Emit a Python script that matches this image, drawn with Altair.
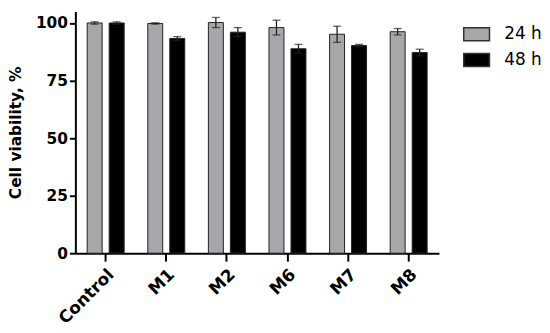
import altair as alt
import pandas as pd

groups = ["Control", "M1", "M2", "M6", "M7", "M8"]
times = ["24 h", "48 h"]
v24 = [100.0, 99.8, 100.2, 98.0, 95.1, 96.2]
e24 = [0.5, 0.3, 2.2, 3.2, 3.5, 1.4]
v48 = [100.0, 93.3, 96.0, 88.8, 90.2, 87.2]
e48 = [0.5, 0.8, 2.0, 1.9, 0.5, 1.4]
y_ticks = [0, 25, 50, 75, 100]

rows = []
for i, g in enumerate(groups):
    rows.append({"group": g, "time": times[0], "value": v24[i], "lo": v24[i] - e24[i], "hi": v24[i] + e24[i]})
    rows.append({"group": g, "time": times[1], "value": v48[i], "lo": v48[i] - e48[i], "hi": v48[i] + e48[i]})
df = pd.DataFrame(rows)

FONT = "DejaVu Sans"

x = alt.X("group:N", sort=groups, title=None,
          scale=alt.Scale(paddingInner=0.39, paddingOuter=0.195),
          axis=alt.Axis(labelAngle=-45, labelAlign="right", labelBaseline="top",
                        labelFont=FONT, labelFontWeight="bold", labelFontSize=17,
                        labelColor="black", labelPadding=5,
                        tickSize=8, tickWidth=2, tickColor="black",
                        domainWidth=2, domainColor="black"))
xo = alt.XOffset("time:N", sort=times, scale=alt.Scale(paddingInner=0.32, paddingOuter=0))
yscale = alt.Scale(domain=[0, 105], nice=False)

color = alt.Color("time:N", sort=times,
                  scale=alt.Scale(domain=times, range=["#a7a7ab", "#000000"]),
                  legend=alt.Legend(title=None, orient="none", legendX=391, legendY=9,
                                    symbolType="M-1,-0.5H1V0.5H-1Z", symbolSize=676,
                                    symbolStrokeColor="#333333", symbolStrokeWidth=1.5,
                                    labelFont=FONT, labelFontSize=17, labelColor="black",
                                    labelOffset=14, rowPadding=2, padding=0))

base = alt.Chart(df)

bars = base.mark_bar(stroke="#222222", strokeWidth=1).encode(
    x=x, xOffset=xo,
    y=alt.Y("value:Q", scale=yscale, title="Cell viability, %",
            axis=alt.Axis(values=y_ticks, grid=False, labelFont=FONT, labelFontWeight="bold",
                          labelFontSize=15.5, labelColor="black", labelPadding=2,
                          tickSize=6, tickWidth=2, tickColor="black",
                          domainWidth=2, domainColor="black",
                          titleFont=FONT, titleFontWeight="bold", titleFontSize=15.5,
                          titleColor="black", titlePadding=12)),
    color=color,
)

rule = base.mark_rule(color="#222222", strokeWidth=1.3).encode(
    x=x, xOffset=xo, y=alt.Y("lo:Q", scale=yscale), y2="hi:Q")
cap_lo = base.mark_tick(color="#222222", thickness=1.3, size=8, orient="horizontal").encode(
    x=x, xOffset=xo, y=alt.Y("lo:Q", scale=yscale))
cap_hi = base.mark_tick(color="#222222", thickness=1.3, size=8, orient="horizontal").encode(
    x=x, xOffset=xo, y=alt.Y("hi:Q", scale=yscale))

chart = alt.layer(bars, rule, cap_lo, cap_hi).properties(
    width=367, height=244,
    padding={"left": 0, "top": 2, "right": 0, "bottom": 0},
).configure_view(stroke=None).configure_axis(grid=False)

chart.save("out.html", embed_options={"renderer": "svg", "actions": False})
